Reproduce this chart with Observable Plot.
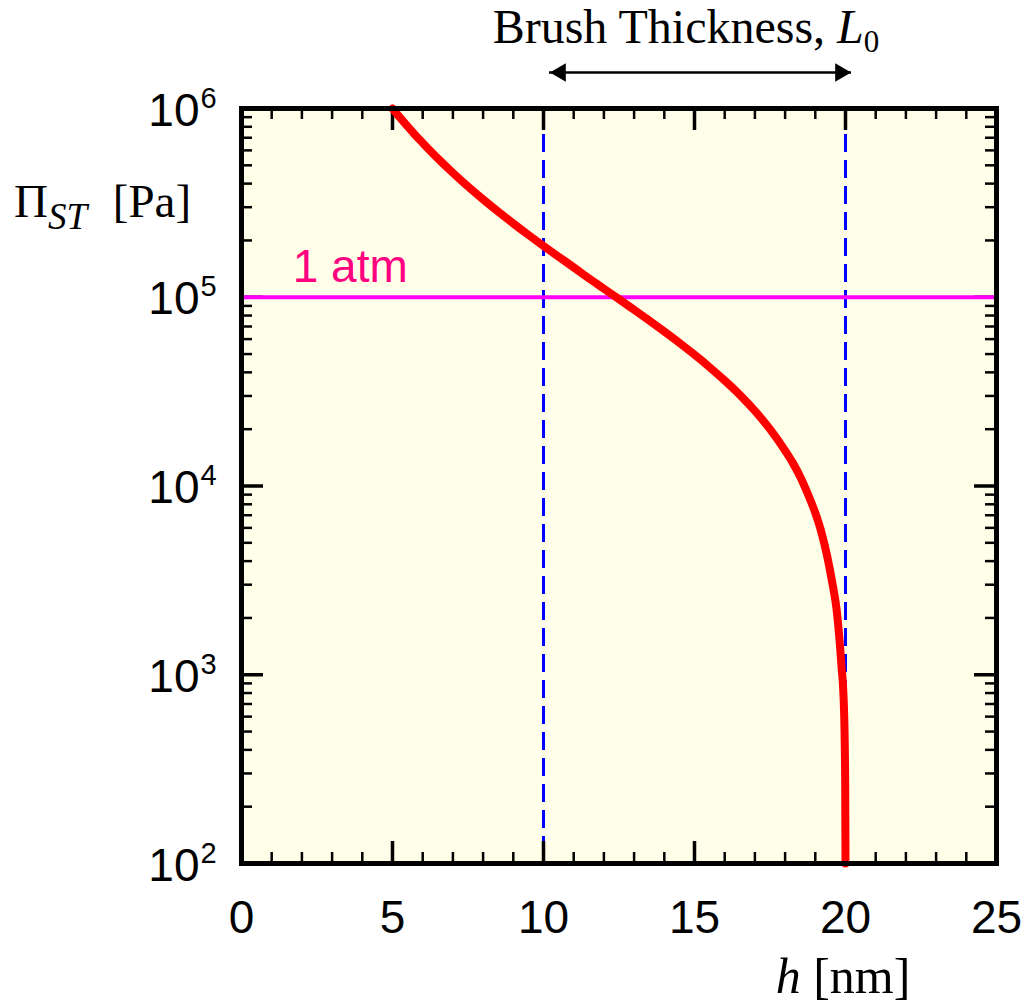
<!DOCTYPE html>
<html>
<head>
<meta charset="utf-8">
<script src="https://cdn.jsdelivr.net/npm/d3@7"></script>
<script src="https://cdn.jsdelivr.net/npm/@observablehq/plot@0.6"></script>
<style>
  html, body { margin: 0; padding: 0; background: #ffffff; }
  #chart svg { display: block; }
</style>
</head>
<body>
<div id="chart"></div>
<script>
// ---- data ----
const hValues  = [5, 5.25, 5.5, 5.75, 6, 6.5, 7, 7.5, 8, 8.5, 9, 9.5, 10, 10.5, 11, 11.5, 12, 12.5, 13, 13.5, 14, 14.5, 15, 15.5, 16, 16.5, 17, 17.5, 18, 18.25, 18.5, 18.75, 19, 19.2, 19.4, 19.55, 19.7, 19.8, 19.87, 19.93, 19.97, 19.99, 20.0];
const piValues = [1.0e6, 8.94e5, 8.03e5, 7.24e5, 6.57e5, 5.44e5, 4.56e5, 3.86e5, 3.30e5, 2.84e5, 2.46e5, 2.14e5, 1.87e5, 1.64e5, 1.44e5, 1.26e5, 1.11e5, 9.77e4, 8.58e4, 7.53e4, 6.58e4, 5.73e4, 4.96e4, 4.26e4, 3.62e4, 3.04e4, 2.50e4, 2.00e4, 1.54e4, 1.33e4, 1.12e4, 9.1e3, 7.2e3, 5.7e3, 4.2e3, 3.15e3, 2.25e3, 1.55e3, 1.1e3, 800, 480, 260, 100];

const xTickValues = [0, 5, 10, 15, 20, 25];
const xMinorTicks = [1, 2, 3, 4, 6, 7, 8, 9, 11, 12, 13, 14, 16, 17, 18, 19, 21, 22, 23, 24];
const yExponents = [2, 3, 4, 5, 6];
const yMinorMultipliers = [2, 3, 4, 5, 6, 7, 8, 9];
const brushBounds = [10, 20];          // L0 region (nm)
const atmPressure = [1e5];             // 1 atm in Pa
const atmLabel = ["1 atm"];
const titleText = "Brush Thickness, ";

// derived tables
const curve = hValues.map((h, i) => ({h, pi: piValues[i]}));
const yMajor = yExponents.map(e => Math.pow(10, e));
const yMinor = yExponents.slice(0, -1).flatMap(e => yMinorMultipliers.map(m => m * Math.pow(10, e)));
const xMajorInner = xTickValues.slice(1, -1);

const W = 1026, H = 1005;
const mL = 241, mR = 30, mT = 108, mB = 142;
const pw = W - mL - mR, ph = H - mT - mB;
const sans = "'Liberation Sans', Arial, sans-serif";
const serif = "'Liberation Serif', 'Times New Roman', serif";
const majorLen = 22, minorLen = 11;

const plot = Plot.plot({
  width: W, height: H,
  marginLeft: mL, marginRight: mR, marginTop: mT, marginBottom: mB,
  x: {domain: [0, 25], axis: null},
  y: {type: "log", domain: [1e2, 1e6], axis: null},
  style: {background: "#ffffff", overflow: "visible"},
  marks: [
    Plot.frame({fill: "#fffee8", stroke: null}),
    // dashed brush bounds
    Plot.ruleX(brushBounds, {stroke: "#0000ff", strokeWidth: 3, strokeDasharray: "18,8"}),
    // x ticks (bottom & top)
    Plot.tickX(xMinorTicks, {x: d => d, insetTop: ph - minorLen, stroke: "black", strokeWidth: 2.5}),
    Plot.tickX(xMinorTicks, {x: d => d, insetBottom: ph - minorLen, stroke: "black", strokeWidth: 2.5}),
    Plot.tickX(xMajorInner, {x: d => d, insetTop: ph - majorLen, stroke: "black", strokeWidth: 3.5}),
    Plot.tickX(xMajorInner, {x: d => d, insetBottom: ph - majorLen, stroke: "black", strokeWidth: 3.5}),
    // y ticks (left & right)
    Plot.tickY(yMinor, {y: d => d, insetRight: pw - minorLen, stroke: "black", strokeWidth: 2.5}),
    Plot.tickY(yMinor, {y: d => d, insetLeft: pw - minorLen, stroke: "black", strokeWidth: 2.5}),
    Plot.tickY(yMajor, {y: d => d, insetRight: pw - majorLen, stroke: "black", strokeWidth: 3.5}),
    Plot.tickY(yMajor, {y: d => d, insetLeft: pw - majorLen, stroke: "black", strokeWidth: 3.5}),
    // 1 atm line and label
    Plot.ruleY(atmPressure, {stroke: "#ff00ff", strokeWidth: 4}),
    Plot.text(atmLabel, {x: 3.6, y: atmPressure[0], text: d => d, fill: "#ff0080", fontSize: 46,
      fontFamily: sans, textAnchor: "middle", lineAnchor: "bottom", dy: -15}),
    // curve
    Plot.line(curve, {x: "h", y: "pi", stroke: "#ff0000", strokeWidth: 8, curve: "monotone-x",
      strokeLinecap: "round", strokeLinejoin: "round"}),
    // frame
    Plot.frame({stroke: "black", strokeWidth: 5}),
    // x tick labels
    Plot.text(xTickValues, {x: d => d, y: 1e2, text: d => String(d), fontSize: 46, fontFamily: sans,
      fill: "black", textAnchor: "middle", lineAnchor: "bottom", dy: 69}),
    // y tick labels: "10" + superscript exponent
    Plot.text(yExponents, {y: d => Math.pow(10, d), frameAnchor: "left", text: d => "10", fontSize: 46,
      fontFamily: sans, fill: "black", textAnchor: "end", lineAnchor: "bottom", dx: -42, dy: 17}),
    Plot.text(yExponents, {y: d => Math.pow(10, d), frameAnchor: "left", text: d => String(d), fontSize: 29,
      fontFamily: sans, fill: "black", textAnchor: "start", lineAnchor: "bottom", dx: -41, dy: -1}),
    // brush thickness double arrow
    Plot.ruleY([1e6], {x1: brushBounds[0], x2: brushBounds[1], dx: 6, dy: -36, stroke: "black", strokeWidth: 2.5}),
    Plot.dot([brushBounds[0]], {x: d => d, y: 1e6, dx: 17, dy: -36, symbol: "triangle", rotate: -90, r: 6.8, fill: "black", stroke: null}),
    Plot.dot([brushBounds[1]], {x: d => d, y: 1e6, dx: -5, dy: -36, symbol: "triangle", rotate: 90, r: 6.8, fill: "black", stroke: null})
  ]
});

document.getElementById("chart").appendChild(plot);

// rich-text labels (subscripts / italics)
const svg = d3.select(plot);
const xs = plot.scale("x");

const title = svg.append("text")
  .attr("x", xs.apply(15) - 8).attr("y", 43)
  .attr("text-anchor", "middle")
  .attr("font-family", serif).attr("font-size", 48).attr("fill", "black");
title.append("tspan").text(titleText);
title.append("tspan").attr("font-style", "italic").text("L");
title.append("tspan").attr("font-size", 31).attr("dy", 9).text("0");

const ylab = svg.append("text")
  .attr("x", 14).attr("y", 217)
  .attr("text-anchor", "start")
  .attr("font-family", serif).attr("font-size", 47).attr("fill", "black");
ylab.append("tspan").text("Π");
ylab.append("tspan").attr("font-style", "italic").attr("font-size", 37).attr("dy", 12).text("ST");
ylab.append("tspan").attr("dy", -12).attr("dx", 14).text(" [Pa]");

const xlab = svg.append("text")
  .attr("x", xs.apply(20) - 2).attr("y", 993)
  .attr("text-anchor", "middle")
  .attr("font-family", serif).attr("font-size", 50).attr("fill", "black");
xlab.append("tspan").attr("font-style", "italic").text("h");
xlab.append("tspan").text(" [nm]");
</script>
</body>
</html>
